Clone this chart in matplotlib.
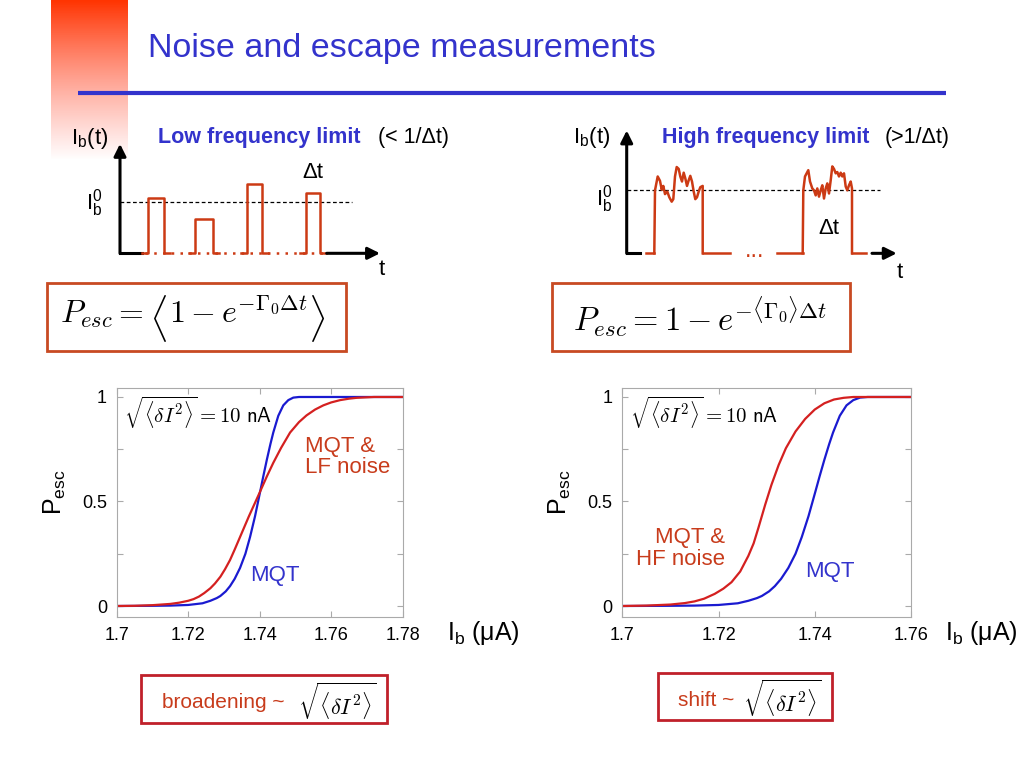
import matplotlib
matplotlib.use('Agg')
import matplotlib.pyplot as plt
import numpy as np
from matplotlib.patches import Rectangle

plt.rcParams['font.family'] = ['Liberation Sans', 'DejaVu Sans']
plt.rcParams['mathtext.fontset'] = 'custom'
plt.rcParams['mathtext.rm'] = 'Liberation Sans'
plt.rcParams['mathtext.it'] = 'Liberation Sans:italic'
plt.rcParams['mathtext.bf'] = 'Liberation Sans:bold'

# escape probability curves
ib_mqt = [1.700, 1.710, 1.715, 1.720, 1.724, 1.7262, 1.728, 1.729, 1.7305, 1.7317, 1.733, 1.7345,
          1.736, 1.7373, 1.7387, 1.7401, 1.741, 1.742, 1.743, 1.7438, 1.7452, 1.7466, 1.748,
          1.7494, 1.751, 1.780]
p_mqt = [0.000, 0.001, 0.002, 0.005, 0.013, 0.025, 0.038, 0.048, 0.070, 0.095, 0.130, 0.182,
         0.250, 0.330, 0.430, 0.545, 0.620, 0.700, 0.775, 0.830, 0.910, 0.960, 0.985,
         0.997, 1.000, 1.000]

ib_lf = [1.700, 1.705, 1.710, 1.715, 1.7175, 1.720, 1.7215, 1.723, 1.7245, 1.7262, 1.7275, 1.729,
         1.7303, 1.7317, 1.733, 1.7345, 1.737, 1.7401, 1.742, 1.7438, 1.746, 1.7485, 1.751,
         1.7531, 1.7555, 1.7578, 1.760, 1.7625, 1.765, 1.7671, 1.772, 1.780]
p_lf = [0.000, 0.001, 0.004, 0.010, 0.016, 0.025, 0.033, 0.045, 0.062, 0.085, 0.108, 0.140,
        0.176, 0.220, 0.270, 0.330, 0.430, 0.547, 0.620, 0.685, 0.757, 0.830, 0.880,
        0.912, 0.940, 0.960, 0.974, 0.985, 0.992, 0.996, 1.000, 1.000]

ib_hf = [1.700, 1.705, 1.710, 1.713, 1.715, 1.717, 1.7192, 1.721, 1.7227, 1.7245, 1.7262, 1.7273,
         1.7283, 1.7297, 1.731, 1.7325, 1.734, 1.736, 1.738, 1.740, 1.742, 1.744, 1.746, 1.748, 1.760]
p_hf = [0.000, 0.002, 0.007, 0.014, 0.022, 0.035, 0.058, 0.083, 0.114, 0.165, 0.240, 0.300,
        0.375, 0.485, 0.580, 0.675, 0.755, 0.835, 0.895, 0.940, 0.970, 0.988, 0.996, 1.000, 1.000]

left_xticks = [1.70, 1.72, 1.74, 1.76, 1.78]
left_xlabels = ['1.7', '1.72', '1.74', '1.76', '1.78']
right_xticks = [1.70, 1.72, 1.74, 1.76]
right_xlabels = ['1.7', '1.72', '1.74', '1.76']
yticks = [0, 0.25, 0.5, 0.75, 1]
ylabels = ['0', '', '0.5', '', '1']

# low frequency sketch: square pulses (time in arb. units, current in units of Ib0)
lf_starts = [28, 75, 127, 186]
lf_widths = [16, 18, 15, 14]
lf_heights = [1.08, 0.665, 1.34, 1.17]

# high frequency sketch: noisy pulses
hf_t1 = [27.6, 28.3, 31, 33.3, 35, 36.6, 38.3, 40.6, 42.6, 45, 46.6, 48.3, 50, 52, 53.6, 55.3,
         57, 58.6, 60.3, 62, 63.6, 65.3, 67, 68.6, 70.3, 72, 73.6, 76, 76]
hf_i1 = [0, 1.0, 1.22, 1.15, 1.01, 1.07, 0.94, 0.98, 0.89, 0.82, 0.86, 1.22, 1.37, 1.34, 1.22, 1.14,
         1.28, 1.19, 1.07, 1.16, 1.23, 1.14, 0.98, 0.86, 0.89, 0.98, 1.05, 1.07, 0]
hf_t2 = [176, 176.6, 178.3, 181.6, 183.3, 185.6, 187.3, 189, 190.6, 192.3, 194, 195.6, 197.3, 199,
         200.6, 202.3, 204, 205.6, 207.3, 209, 210.6, 212.3, 214, 215.6, 217.3, 219, 220.6, 222.3,
         224, 225.3, 225.3]
hf_i2 = [0, 1.0, 1.22, 1.32, 1.14, 1.03, 1.0, 0.92, 1.03, 0.9, 1.0, 1.08, 0.87, 1.03,
         1.11, 0.95, 1.16, 1.38, 1.34, 1.27, 1.29, 1.22, 1.28, 1.22, 1.27, 1.06, 1.0, 1.08,
         1.14, 1.03, 0]
hf_base = [(19.3, 27.6), (76, 103.3), (150, 176), (225.3, 239.3)]

W, H = 1024, 768
BLUE = '#3333cc'
PULSE = '#cc3a14'
BOX_TOP = '#c84a22'
BOX_BOT = '#c0202a'
TXT_RED = '#c83c1c'
C_BLUE = '#1a1ad0'
C_RED = '#d42020'

fig = plt.figure(figsize=(10.24, 7.68), dpi=100)
bg = fig.add_axes([0, 0, 1, 1])
bg.axis('off')

# red gradient strip in the corner
n = 200
img = np.zeros((n, 1, 4))
fr = np.linspace(0, 1, n)
img[:, 0, 0] = 1.0
img[:, 0, 1] = 0.2 + 0.25 * fr
img[:, 0, 2] = 0.0 + 0.4 * fr
img[:, 0, 3] = (1 - fr) ** 0.9
bg.imshow(img, extent=[51, 128, 160, 0], aspect='auto', interpolation='bilinear')
bg.set_xlim(0, W)
bg.set_ylim(H, 0)

bg.text(148, 49, 'Noise and escape measurements', fontsize=24.5, color=BLUE, va='center')
bg.plot([78, 946], [93, 93], color=BLUE, lw=3, solid_capstyle='butt')

bg.text(158, 143, 'Low frequency limit', fontsize=15.5, fontweight='bold', color=BLUE, va='baseline')
bg.text(378, 143, '(< 1/Δt)', fontsize=15.5, color='black', va='baseline')
bg.text(662, 143, 'High frequency limit', fontsize=15.5, fontweight='bold', color=BLUE, va='baseline')
bg.text(885, 143, '(>1/Δt)', fontsize=15.5, color='black', va='baseline')

# formula boxes
bg.add_patch(Rectangle((47.3, 283.3), 298.7, 67.4, fill=False, ec=BOX_TOP, lw=2))
f1 = bg.text(60, 323, r'$P_{esc} =$', fontsize=23, math_fontfamily='cm', va='baseline')
f2 = bg.annotate(r'$\langle$', xy=(1, 318), xycoords=(f1, 'data'), xytext=(4, 0),
                 textcoords='offset points', fontsize=29, math_fontfamily='cm', va='center')
f3 = bg.annotate(r'$1 - e^{-\Gamma_0\Delta t}$', xy=(1, 323), xycoords=(f2, 'data'), xytext=(1, 0),
                 textcoords='offset points', fontsize=23, math_fontfamily='cm', va='baseline')
bg.annotate(r'$\rangle$', xy=(1, 318), xycoords=(f3, 'data'), xytext=(1, 0),
            textcoords='offset points', fontsize=29, math_fontfamily='cm', va='center')

bg.add_patch(Rectangle((552, 283.3), 298, 67.4, fill=False, ec=BOX_TOP, lw=2))
bg.text(700, 317, r'$P_{esc} = 1 - e^{-\langle\Gamma_0\rangle\Delta t}$',
        fontsize=23.5, math_fontfamily='cm', ha='center', va='center')

# bottom boxes
bg.add_patch(Rectangle((140.7, 675), 246.6, 48.3, fill=False, ec=BOX_BOT, lw=2))
bg.text(162, 703, 'broadening ~', fontsize=15, color=TXT_RED, va='center')
bg.text(298, 701, r'$\sqrt{\langle\delta I^2\rangle}$', fontsize=16, math_fontfamily='cm', va='center')
bg.add_patch(Rectangle((658.3, 673.3), 173.4, 46.7, fill=False, ec=BOX_BOT, lw=2))
bg.text(678, 700, 'shift ~', fontsize=15, color=TXT_RED, va='center')
bg.text(743, 698, r'$\sqrt{\langle\delta I^2\rangle}$', fontsize=16, math_fontfamily='cm', va='center')

arrow = dict(arrowstyle='-|>', lw=2.2, color='k', mutation_scale=18, shrinkA=0, shrinkB=0)

# low frequency sketch
a1 = fig.add_axes([60 / W, (H - 290) / H, 340 / W, 180 / H])
a1.set_xlim(-60, 280)
a1.set_ylim(-0.711, 2.777)
a1.axis('off')
a1.annotate('', xy=(0, 2.12), xytext=(0, 0), arrowprops=arrow)
a1.plot([0, 21.7], [0, 0], color='k', lw=2.2)
a1.annotate('', xy=(260, 0), xytext=(206.7, 0), arrowprops=arrow)
a1.plot([0, 232], [1, 1], color='k', lw=0.9, ls=(0, (3, 2)))
a1.plot([25, 205], [0, 0], color=PULSE, lw=1.8, ls=(0, (1, 2.5)))
for s, w, h in zip(lf_starts, lf_widths, lf_heights):
    a1.plot([s - 6, s, s, s + w, s + w, s + w + 6], [0, 0, h, h, 0, 0], color=PULSE, lw=1.8)
a1.text(-30, 2.23, r'I$_{\rm b}$(t)', fontsize=16, ha='center', va='center')
a1.text(-26, 0.97, r'I$_{\rm b}^{\rm 0}$', fontsize=16, ha='center', va='center')
a1.text(193, 1.575, 'Δt', fontsize=16, ha='center', va='center')
a1.text(262, -0.32, 't', fontsize=16, ha='center', va='center')

# high frequency sketch
a2 = fig.add_axes([560 / W, (H - 290) / H, 400 / W, 180 / H])
a2.set_xlim(-66.7, 333.3)
a2.set_ylim(-0.582, 2.275)
a2.axis('off')
a2.annotate('', xy=(0, 1.95), xytext=(0, 0), arrowprops=arrow)
a2.plot([0, 13.3], [0, 0], color='k', lw=2.2)
a2.annotate('', xy=(270, 0), xytext=(245.3, 0), arrowprops=arrow)
a2.plot([0, 253], [1, 1], color='k', lw=0.9, ls=(0, (3, 2)))
for b0, b1 in hf_base:
    a2.plot([b0, b1], [0, 0], color=PULSE, lw=1.8)
a2.plot(hf_t1, hf_i1, color=PULSE, lw=1.8)
a2.plot(hf_t2, hf_i2, color=PULSE, lw=1.8)
a2.text(128, -0.06, '...', fontsize=17, color=PULSE, ha='center', va='baseline')
a2.text(-34.7, 1.84, r'I$_{\rm b}$(t)', fontsize=16, ha='center', va='center')
a2.text(-22.7, 0.86, r'I$_{\rm b}^{\rm 0}$', fontsize=16, ha='center', va='center')
a2.text(202, 0.40, 'Δt', fontsize=16, ha='center', va='center')
a2.text(273, -0.31, 't', fontsize=16, ha='center', va='center')


def esc_axes(rect, xlim, xt, xl):
    ax = fig.add_axes(rect)
    ax.set_xlim(xlim)
    ax.set_ylim(-0.0526, 1.043)
    ax.set_xticks(xt)
    ax.set_xticklabels(xl)
    ax.set_yticks(yticks)
    ax.set_yticklabels(ylabels)
    ax.tick_params(direction='in', length=4, width=0.8, color='#aaaaaa', top=True, right=True,
                   labelsize=13, pad=7)
    for sp in ax.spines.values():
        sp.set_color('#aaaaaa')
        sp.set_linewidth(0.8)
    ax.text(-0.215, 0.546, r'P$_{\rm esc}$', fontsize=18, rotation=90, ha='center', va='center',
            transform=ax.transAxes)
    ax.text(0.025, 0.89, r'$\sqrt{\langle\delta I^2\rangle} = \mathsf{10\ nA}$', fontsize=15,
            math_fontfamily='cm', va='center', transform=ax.transAxes)
    return ax


ax1 = esc_axes([116.7 / W, 151 / H, 286 / W, 229 / H], (1.70, 1.78), left_xticks, left_xlabels)
ax1.plot(ib_mqt, p_mqt, color=C_BLUE, lw=1.6)
ax1.plot(ib_lf, p_lf, color=C_RED, lw=1.6)
ax1.text(1.7527, 0.713, 'MQT &\nLF noise', fontsize=16, color=TXT_RED, ha='left', va='center',
         linespacing=1.05)
ax1.text(1.7443, 0.144, 'MQT', fontsize=16, color=BLUE, ha='center', va='center')
ax1.text(1.155, -0.07, r'I$_{\rm b}$ (μA)', fontsize=18, ha='left', va='center',
         transform=ax1.transAxes)

ax2 = esc_axes([622.3 / W, 151 / H, 288.7 / W, 229 / H], (1.70, 1.76), right_xticks, right_xlabels)
ax2.plot(ib_mqt, p_mqt, color=C_BLUE, lw=1.6)
ax2.plot(ib_hf, p_hf, color=C_RED, lw=1.6)
ax2.text(1.7213, 0.277, 'MQT &\nHF noise', fontsize=16, color=TXT_RED, ha='right', va='center',
         multialignment='right', linespacing=1.05)
ax2.text(1.7431, 0.163, 'MQT', fontsize=16, color=BLUE, ha='center', va='center')
ax2.text(1.117, -0.07, r'I$_{\rm b}$ (μA)', fontsize=18, ha='left', va='center',
         transform=ax2.transAxes)

fig.savefig('out.png', dpi=100)
